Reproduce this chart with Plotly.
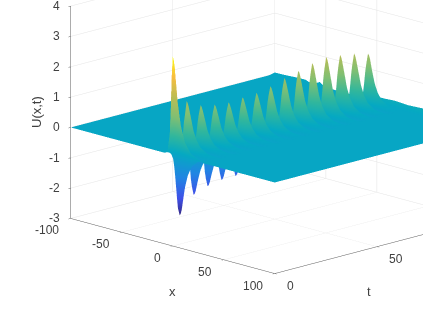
import numpy as np
import plotly.graph_objects as go

x_nodes = [-100,-90,-80,-70,-64,-60,-56,-52,-45,-30,-15,-8,-5,-3,-2,-1,0,1,2,3,5,8,12,18,30,60,100]
x_shape = [0,0,0,0,0,0,0,0,0,0,0,0,.04,.2,.45,.8,1,.97,.9,.78,.54,.32,.16,.06,0,0,0]
back_edge = [.04,.05,.07,.08,0,.05,.13,.03,0,0,0,0,.05,.1,.12,.14,.15,.15,.15,.15,.16,.16,.17,.18,.15,.2,.2]
t_nodes = [0,.85,1.71,2.56,3.42,4.27,5.12,5.98,6.83,
 7.69,8.54,9.39,10.25,11.1,11.96,12.81,13.66,
 14.52,15.37,16.23,17.08,17.93,18.79,19.64,20.5,
 21.35,22.2,23.06,23.91,24.77,25.62,26.47,27.33,
 28.18,29.04,29.89,30.74,31.6,32.45,33.31,34.16,
 35.01,35.87,36.72,37.58,38.43,39.28,40.14,40.99,
 41.85,42.7,43.55,44.41,45.26,46.12,46.97,47.82,
 48.68,49.53,50.39,51.24,52.09,52.95,53.8,54.66,
 55.51,56.36,57.22,58.07,58.93,59.78,60.63,61.49,
 62.34,63.2,64.05,64.9,65.76,66.61,67.47,68.32,
 69.17,70.03,70.88,71.74,72.59,73.44,74.3,75.15,
 76.01,76.86,77.71,78.57,79.42,80.28,81.13,81.98,
 82.84,83.69,84.55,85.4,86.25,87.11,87.96,88.82,
 89.67,90.52,91.38,92.23,93.09,93.94,94.79,95.65,
 96.5,97.3,98.2,99,99.5,100]
u_ridge = [3.25,1.1,-.9,-1.8,-2.05,-1.5,.1,1.2,1.65,
 1.32,.58,-1.2,-1.5,-1.2,.49,1.12,1.4,
 1.12,.49,-1.06,-1.33,-1.06,.45,1.04,1.3,
 1.04,.45,-1.0,-1.25,-1.0,.44,1.0,1.25,
 1.0,.44,-.99,-1.24,-.99,.45,1.04,1.3,
 1.04,.45,-1.04,-1.3,-1.04,.46,1.06,1.32,
 1.06,.46,-1.06,-1.32,-1.06,.5,1.14,1.42,
 1.14,.5,-1.12,-1.4,-1.12,.55,1.26,1.57,
 1.26,.55,-1.2,-1.5,-1.2,.59,1.35,1.69,
 1.35,.59,-1.24,-1.55,-1.24,.64,1.46,1.82,
 1.46,.64,-1.28,-1.6,-1.28,.66,1.52,1.9,
 1.52,.66,-1.24,-1.55,-1.24,.65,1.48,1.85,
 1.48,.65,-1.2,-1.5,-1.2,.62,1.42,1.77,
 1.42,.62,-1.12,-1.4,-1.12,.58,1.32,1.65,
 1.25,.5,.1,0,0,0]
back_fade = [0]*(len(t_nodes)-5) + [.1,.4,.7,.9,1]
x_ticks = [-100,-50,0,50,100]
x_labels = ["-100","-50","0","50","100"]
t_ticks = [0,50,100]
t_labels = ["0","50","100"]
z_ticks = [-3,-2,-1,0,1,2,3,4]
z_labels = ["-3","-2","-1","0","1","2","3","4"]
parula = [[0,"#352a87"],[.11,"#3f50e8"],[.24,"#2284e4"],[.4,"#05a9c2"],[.5,"#32b79c"],[.62,"#7fbf74"],[.75,"#bdbd53"],[.875,"#f9bd3f"],[1,"#f9fb15"]]

z = np.outer(u_ridge, x_shape) + np.outer(back_fade, back_edge)
txt = dict(family="Liberation Sans", size=13, color="#404040")
tick_txt = dict(family="Liberation Sans", size=12, color="#404040")
axis = dict(showbackground=False, gridcolor="#e4e4e4", gridwidth=1, showline=True, linecolor="#5a5a5a",
            linewidth=1, ticks="outside", ticklen=3, tickcolor="#5a5a5a", zeroline=False, showspikes=False,
            showticklabels=False, title=dict(text=""))
fig = go.Figure(go.Surface(x=x_nodes, y=t_nodes, z=z, colorscale=parula, cmin=-2.05, cmax=3.25, showscale=False,
    lighting=dict(ambient=1, diffuse=0, specular=0, roughness=1, fresnel=0), hoverinfo="skip"))
ex, ey, sel = .7117, -.7025, .2665
cel = (1-sel**2)**.5
d = np.array([ex*cel, ey*cel, sel])
R = 3.0
S = 149.0
r = np.array([-ey, ex, 0.0])
u = np.array([-sel*ex, -sel*ey, cel])
c = (-59.5/S)*r + (-42.8/S)*u
e = c + d*R
def label(text, px, py, angle=0):
    return dict(text=text, x=px/423, y=1-py/317, xref="paper", yref="paper", xanchor="center", yanchor="middle",
                showarrow=False, textangle=angle, font=txt)
def tick(text, x, y, zv, anchor, dx, dy):
    return dict(text=text, x=x, y=y, z=zv, showarrow=False, xanchor=anchor, yanchor="middle", xshift=dx, yshift=dy, font=tick_txt)
notes = [tick(s, v, 0, -3, "right", -10, -12) for v, s in zip(x_ticks, x_labels)]
notes += [tick(s, 100, v, -3, "left", 10, -12) for v, s in zip(t_ticks, t_labels)]
notes += [tick(s, -100, 0, v, "right", -9, 0) for v, s in zip(z_ticks, z_labels)]
fig.update_layout(width=423, height=317, margin=dict(l=0,r=0,t=0,b=0), paper_bgcolor="white",
    scene=dict(
      xaxis=dict(axis, range=[-100,100], tickvals=x_ticks, ticktext=x_labels),
      yaxis=dict(axis, range=[0,100], tickvals=t_ticks, ticktext=t_labels),
      zaxis=dict(axis, range=[-3,4], tickvals=z_ticks, ticktext=z_labels),
      annotations=notes,
      aspectmode="manual", aspectratio=dict(x=1.833,y=1.81,z=1.39),
      camera=dict(projection=dict(type="orthographic"), up=dict(x=0,y=0,z=1), center=dict(x=c[0],y=c[1],z=c[2]), eye=dict(x=e[0],y=e[1],z=e[2]))),
    annotations=[label("U(x,t)", 36, 112, -90), label("x", 172, 291), label("t", 369, 291)])
fig.write_html("out.html", config=dict(displayModeBar=False),
               post_script="document.body.style.margin='0';document.documentElement.style.overflow='hidden';")
